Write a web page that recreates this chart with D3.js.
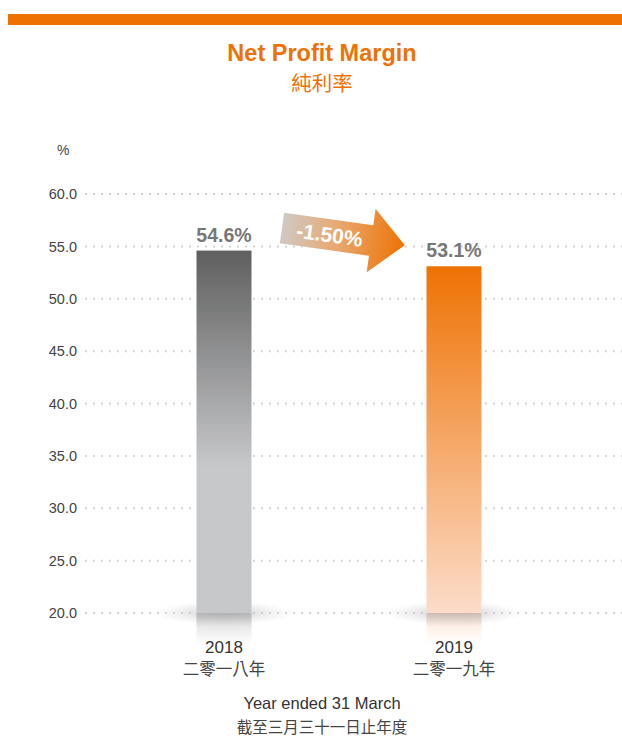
<!DOCTYPE html>
<html><head><meta charset="utf-8">
<script src="https://cdn.jsdelivr.net/npm/d3@7"></script>
<style>body{margin:0;background:#fff}svg{display:block}text{font-family:"Liberation Sans",Arial,sans-serif}</style>
</head><body><svg id="c" width="622" height="736"></svg>
<script>
const categories = ["2018", "2019"];
const categoriesZh = ["二零一八年", "二零一九年"];
const values = [54.6, 53.1];
const valueLabels = ["54.6%", "53.1%"];
const changeLabel = "-1.50%";
const yTicks = [20, 25, 30, 35, 40, 45, 50, 55, 60];

const svg = d3.select("#c");
const orange = "#ee7203";
const defs = svg.append("defs");

const y = d3.scaleLinear().domain([20, 60]).range([613, 194]);
const x = d3.scalePoint().domain(categories).range([224, 454]);
const barW = 55;

// top band
svg.append("rect").attr("x", 8).attr("y", 14).attr("width", 614).attr("height", 11).attr("fill", orange);

// title
svg.append("text").attr("x", 322).attr("y", 61).attr("text-anchor", "middle").attr("font-size", 23.5).attr("font-weight", "bold").attr("fill", orange).text("Net Profit Margin");
svg.append("text").attr("x", 322).attr("y", 91).attr("text-anchor", "middle").attr("font-size", 20.5).attr("fill", orange).style("font-family", "'Noto Sans CJK TC',sans-serif").text("純利率");

// % label
svg.append("text").attr("x", 57).attr("y", 155).attr("font-size", 14).attr("fill", "#444").text("%");

// grid + ticks
const yAxis = d3.axisLeft(y).tickValues(yTicks).tickFormat(d3.format(".1f")).tickSize(0).tickPadding(0);
const ag = svg.append("g").attr("transform", "translate(77,0)").call(yAxis);
ag.select(".domain").remove();
ag.selectAll("text").attr("font-size", 14.5).attr("fill", "#444").style("font-family", "'Liberation Sans',Arial,sans-serif");
svg.append("g").selectAll("line").data(yTicks).join("line")
  .attr("x1", 85).attr("x2", 622).attr("y1", d => y(d)).attr("y2", d => y(d))
  .attr("stroke", "#d4d4d4").attr("stroke-width", 2).attr("stroke-dasharray", "2,6");

// gradients
const barColors = [["#5f5f5f", "#c7c8ca"], [orange, "#fcdcc9"]];
barColors.forEach((c, i) => {
  const g = defs.append("linearGradient").attr("id", "bg" + i).attr("x1", 0).attr("x2", 0).attr("y1", 0).attr("y2", 1);
  g.append("stop").attr("offset", "0%").attr("stop-color", c[0]);
  g.append("stop").attr("offset", i === 0 ? "60%" : "100%").attr("stop-color", c[1]);
  const r = defs.append("linearGradient").attr("id", "rg" + i).attr("x1", 0).attr("x2", 0).attr("y1", 0).attr("y2", 1);
  r.append("stop").attr("offset", "0%").attr("stop-color", c[1]).attr("stop-opacity", 0.7);
  r.append("stop").attr("offset", "100%").attr("stop-color", c[1]).attr("stop-opacity", 0);
});
const sh = defs.append("radialGradient").attr("id", "shadow");
sh.append("stop").attr("offset", "0%").attr("stop-color", "#b5b5b5").attr("stop-opacity", 0.8);
sh.append("stop").attr("offset", "100%").attr("stop-color", "#ddd").attr("stop-opacity", 0);
const sh2 = defs.append("linearGradient").attr("id", "innerShadow").attr("x1", 0).attr("x2", 0).attr("y1", 0).attr("y2", 1);
sh2.append("stop").attr("offset", "0%").attr("stop-color", "#888").attr("stop-opacity", 0.35);
sh2.append("stop").attr("offset", "100%").attr("stop-color", "#888").attr("stop-opacity", 0);

// shadows
svg.append("g").selectAll("ellipse").data(categories).join("ellipse")
  .attr("cx", d => x(d)).attr("cy", y(20)).attr("rx", 72).attr("ry", 12).attr("fill", "url(#shadow)");

// reflections
svg.append("g").selectAll("rect").data(categories).join("rect")
  .attr("x", d => x(d) - barW / 2).attr("y", y(20)).attr("width", barW).attr("height", 32)
  .attr("fill", (d, i) => `url(#rg${i})`);
svg.append("g").selectAll("rect").data(categories).join("rect")
  .attr("x", d => x(d) - barW / 2).attr("y", y(20)).attr("width", barW).attr("height", 14)
  .attr("fill", "url(#innerShadow)");

// bars
svg.append("g").selectAll("rect").data(values).join("rect")
  .attr("x", (d, i) => x(categories[i]) - barW / 2).attr("y", d => y(d))
  .attr("width", barW).attr("height", d => y(20) - y(d))
  .attr("fill", (d, i) => `url(#bg${i})`);

// value labels
svg.append("g").selectAll("text").data(values).join("text")
  .attr("x", (d, i) => x(categories[i])).attr("y", d => y(d) - 9)
  .attr("text-anchor", "middle").attr("font-size", 19.5).attr("font-weight", "bold").attr("fill", "#777")
  .text((d, i) => valueLabels[i]);

// category labels
svg.append("g").selectAll("text").data(categories).join("text")
  .attr("x", d => x(d)).attr("y", 653).attr("text-anchor", "middle").attr("font-size", 17).attr("fill", "#333").text(d => d);
svg.append("g").selectAll("text").data(categoriesZh).join("text")
  .attr("x", (d, i) => x(categories[i])).attr("y", 675).attr("text-anchor", "middle").attr("font-size", 16.5).attr("fill", "#444")
  .style("font-family", "'Noto Sans CJK TC',sans-serif").text(d => d);

svg.append("text").attr("x", 322).attr("y", 709).attr("text-anchor", "middle").attr("font-size", 16.5).attr("fill", "#333").text("Year ended 31 March");
svg.append("text").attr("x", 322).attr("y", 733).attr("text-anchor", "middle").attr("font-size", 15.5).attr("fill", "#444")
  .style("font-family", "'Noto Sans CJK TC',sans-serif").text("截至三月三十一日止年度");

// arrow
const ag2 = defs.append("linearGradient").attr("id", "arrowG").attr("x1", 0).attr("x2", 1).attr("y1", 0).attr("y2", 0);
ag2.append("stop").attr("offset", "0%").attr("stop-color", "#cfc9c3");
ag2.append("stop").attr("offset", "45%").attr("stop-color", "#e8a870");
ag2.append("stop").attr("offset", "100%").attr("stop-color", orange);
const arrow = svg.append("g").attr("transform", "translate(282,228) rotate(8)");
arrow.append("path").attr("d", "M0,-15.5 L90,-15.5 L90,-32 L124,0 L90,32 L90,15.5 L0,15.5 Z").attr("fill", "url(#arrowG)");
arrow.append("text").attr("x", 48).attr("y", 7.5).attr("text-anchor", "middle").attr("font-size", 21).attr("font-weight", "bold").attr("fill", "#fff").text(changeLabel);
</script></body></html>
